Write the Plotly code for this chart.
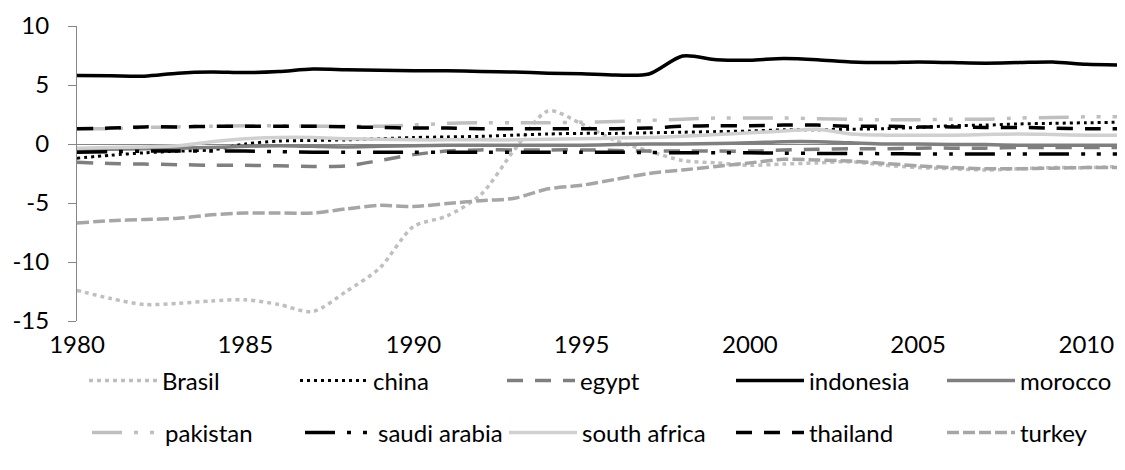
import plotly.graph_objects as go

years = list(range(1980, 2012))

brasil = [-12.4, -13.1, -13.6, -13.5, -13.3, -13.2, -13.6, -14.2, -12.5, -10.5, -7.0, -6.1,
          -4.3, -0.5, 2.8, 1.7, 0.3, -0.6, -1.4, -1.6, -1.8, -1.7, -1.6, -1.5, -1.8, -2.0,
          -2.1, -2.2, -2.1, -2.0, -2.0, -1.9]
china = [-1.2, -0.95, -0.75, -0.6, -0.5, 0.0, 0.25, 0.3, 0.35, 0.45, 0.55, 0.6, 0.65, 0.75,
         0.85, 0.9, 0.9, 0.95, 1.0, 1.05, 1.1, 1.2, 1.2, 1.25, 1.3, 1.4, 1.55, 1.6, 1.7, 1.75,
         1.8, 1.85]
egypt = [-1.55, -1.65, -1.7, -1.75, -1.8, -1.8, -1.85, -1.9, -1.85, -1.4, -0.9, -0.6, -0.5,
         -0.5, -0.5, -0.5, -0.55, -0.6, -0.6, -0.6, -0.6, -0.5, -0.45, -0.4, -0.4, -0.35,
         -0.35, -0.35, -0.3, -0.3, -0.3, -0.3]
indonesia = [5.8, 5.78, 5.75, 6.0, 6.1, 6.05, 6.15, 6.35, 6.3, 6.25, 6.2, 6.2, 6.15, 6.1,
             6.0, 5.95, 5.85, 5.93, 7.45, 7.15, 7.1, 7.25, 7.15, 6.95, 6.9, 6.95, 6.9, 6.85,
             6.9, 6.95, 6.75, 6.7]
morocco = [-0.5, -0.45, -0.4, -0.35, -0.3, -0.2, -0.15, -0.2, -0.25, -0.2, -0.15, -0.1,
           -0.1, -0.1, -0.1, -0.1, -0.05, 0.0, 0.0, 0.05, 0.1, 0.2, 0.2, 0.1, 0.0, 0.0,
           -0.05, -0.05, -0.1, -0.1, -0.1, -0.1]
pakistan = [1.3, 1.3, 1.4, 1.45, 1.5, 1.55, 1.55, 1.5, 1.5, 1.5, 1.6, 1.75, 1.8, 1.8, 1.8,
            1.85, 1.9, 2.0, 2.1, 2.2, 2.2, 2.2, 2.15, 2.1, 2.05, 2.05, 2.1, 2.1, 2.2, 2.25,
            2.3, 2.3]
saudi_arabia = [-0.7, -0.65, -0.6, -0.6, -0.6, -0.6, -0.65, -0.7, -0.7, -0.7, -0.7, -0.7,
                -0.7, -0.7, -0.7, -0.7, -0.7, -0.72, -0.75, -0.75, -0.75, -0.78, -0.8, -0.8,
                -0.82, -0.85, -0.85, -0.85, -0.85, -0.85, -0.85, -0.85]
south_africa = [-0.35, -0.3, -0.25, -0.15, 0.2, 0.45, 0.55, 0.55, 0.45, 0.4, 0.35, 0.35,
                0.35, 0.35, 0.4, 0.45, 0.5, 0.55, 0.65, 0.8, 0.95, 1.1, 1.25, 0.85, 0.75,
                0.75, 0.75, 0.8, 0.85, 0.8, 0.75, 0.75]
thailand = [1.3, 1.35, 1.45, 1.45, 1.5, 1.5, 1.5, 1.5, 1.45, 1.4, 1.35, 1.35, 1.3, 1.3, 1.3,
            1.3, 1.3, 1.35, 1.5, 1.55, 1.55, 1.6, 1.6, 1.5, 1.5, 1.45, 1.45, 1.4, 1.4, 1.35,
            1.3, 1.3]
turkey = [-6.7, -6.5, -6.4, -6.3, -6.0, -5.85, -5.85, -5.85, -5.5, -5.2, -5.3, -5.05, -4.8,
          -4.6, -3.8, -3.5, -3.0, -2.5, -2.2, -1.9, -1.6, -1.3, -1.35, -1.45, -1.65, -1.85,
          -2.0, -2.1, -2.1, -2.05, -2.0, -2.0]

names = ["Brasil", "china", "egypt", "indonesia", "morocco",
         "pakistan", "saudi arabia", "south africa", "thailand", "turkey"]
series = [brasil, china, egypt, indonesia, morocco,
          pakistan, saudi_arabia, south_africa, thailand, turkey]
colors = ["#BFBFBF", "#000000", "#7F7F7F", "#000000", "#7F7F7F",
          "#BFBFBF", "#000000", "#D0D0D0", "#000000", "#A6A6A6"]
dashes = ["4px,4px", "3px,4px", "16px,12px", "solid", "solid",
          "30px,12px,4px,12px,4px,12px", "30px,12px,4px,12px,4px,12px", "solid",
          "16px,12px", "12px,4px"]
widths = [3.5, 3, 3.5, 3.5, 3.5, 3.5, 3.5, 3.5, 3.5, 3.5]

y_tickvals = [-15, -10, -5, 0, 5, 10]
y_ticktext = ["-15", "-10", "-5", "0", "5", "10"]
x_tickvals = [1980, 1985, 1990, 1995, 2000, 2005, 2010]

# legend text start x (px) and row centre y (px)
leg_text_x = [162, 373, 580, 809, 1020, 165, 378, 582, 809, 1020]
leg_row_y = [381, 381, 381, 381, 381, 433, 433, 433, 433, 433]

W, H = 1125, 470
FONT = "Lato"
FS = 24
ITEMW = 68

fig = go.Figure()
layout_legends = {}
for i, (nm, ys, c, d, w) in enumerate(zip(names, series, colors, dashes, widths)):
    key = "legend" if i == 0 else f"legend{i+1}"
    fig.add_trace(go.Scatter(
        x=years, y=ys, name=nm, mode="lines",
        line=dict(color=c, dash=d, width=w, shape="spline", smoothing=0.8),
        legend=key, hoverinfo="skip"))
    layout_legends[key] = dict(
        x=(leg_text_x[i] - ITEMW - 18) / W, y=1 - (leg_row_y[i] - 8) / H,
        xref="container", yref="container", xanchor="left", yanchor="middle",
        itemwidth=ITEMW, bgcolor="rgba(0,0,0,0)", borderwidth=0,
        font=dict(family=FONT, size=FS, color="#000000"))

fig.update_layout(
    width=W, height=H,
    margin=dict(l=69, r=13, t=18, b=157, autoexpand=False),
    paper_bgcolor="white", plot_bgcolor="white",
    font=dict(family=FONT, size=FS, color="#000000"),
    showlegend=True,
    **layout_legends,
)
fig.update_xaxes(
    range=[1980, 2011], tickvals=x_tickvals,
    showline=False, showgrid=False, zeroline=False, ticks="",
    ticklabelstandoff=7, tickfont=dict(family=FONT, size=FS, color="#000000"))
fig.update_yaxes(
    range=[-15, 10], tickvals=y_tickvals, ticktext=y_ticktext,
    showline=True, linecolor="#868686", linewidth=1,
    ticks="outside", ticklen=8, tickcolor="#868686", tickwidth=1,
    showgrid=False, zeroline=True, zerolinecolor="#868686", zerolinewidth=1,
    ticklabelstandoff=14, tickfont=dict(family=FONT, size=FS, color="#000000"))

fig.write_html("out.html")
